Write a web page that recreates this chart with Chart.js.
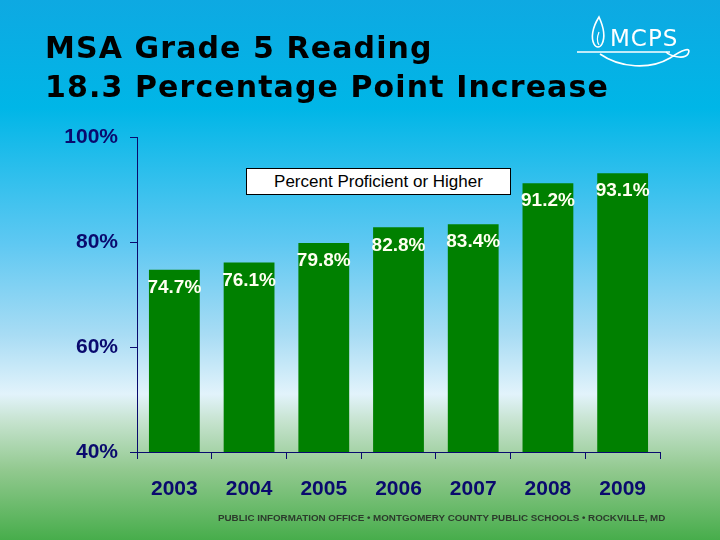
<!DOCTYPE html>
<html>
<head>
<meta charset="utf-8">
<script src="https://cdn.jsdelivr.net/npm/chart.js@4"></script>
<style>
  html, body { margin: 0; padding: 0; }
  body {
    width: 720px; height: 540px; position: relative; overflow: hidden;
    background: linear-gradient(to bottom, #0ea9e2 0%, #00b6e7 20%, #5ec8f2 45%, #a8dcf4 62%, #e2f3fb 73%, #c6e3cf 78%, #92c98f 87%, #47ad4b 100%);
  }
  #chart { position: absolute; left: 0; top: 0; }
  .title {
    position: absolute; left: 45px; top: 28px; margin: 0;
    font: bold 30px "DejaVu Sans", Verdana, sans-serif; line-height: 39px; color: #000;
    letter-spacing: 1.1px;
  }
  .legend-box {
    position: absolute; left: 246px; top: 168px; width: 263px; height: 25px;
    background: #fff; border: 1px solid #000;
    font: 17px "Liberation Sans", Arial, sans-serif; line-height: 25px; text-align: center; color: #000;
  }
  .footer {
    position: absolute; left: 218px; top: 512px;
    font: bold 9.8px "Liberation Sans", Arial, sans-serif; color: #2c3a2c; white-space: nowrap;
  }
  .logo { position: absolute; left: 570px; top: 12px; }
</style>
</head>
<body>
<canvas id="chart" width="720" height="540"></canvas>
<h1 class="title">MSA Grade 5 Reading<br>18.3 Percentage Point Increase</h1>
<div class="legend-box">Percent Proficient or Higher</div>
<div class="footer">PUBLIC INFORMATION OFFICE • MONTGOMERY COUNTY PUBLIC SCHOOLS • ROCKVILLE, MD</div>
<svg class="logo" width="140" height="70" viewBox="0 0 140 70">
  <path d="M29 5 C22 16 21 26 24 32 C26 36 30 36 32 32 C35 26 34 16 29 5 Z" fill="none" stroke="#fff" stroke-width="1.6"/>
  <path d="M29 20 C27 25 27 30 29 33" fill="none" stroke="#fff" stroke-width="1.2"/>
  <text x="40" y="34" fill="#fff" font-family="'DejaVu Sans', Verdana, sans-serif" font-size="23" letter-spacing="1">MCPS</text>
  <path d="M7 40 L100 40" stroke="#fff" stroke-width="1.6"/>
  <path d="M30 42 C50 56 80 58 100 46 C112 38 122 34 118 42 C114 48 100 44 96 40" fill="none" stroke="#fff" stroke-width="1.6"/>
</svg>
<script>
const YEARS = ['2003', '2004', '2005', '2006', '2007', '2008', '2009'];
const PROFICIENT = [74.7, 76.1, 79.8, 82.8, 83.4, 91.2, 93.1];
const Y_TICKS = [40, 60, 80, 100];
const SERIES_LABEL = 'Percent Proficient or Higher';

const NAVY = '#0a0a6e';
const BAR_GREEN = '#008000';

// etiquetas de valor dentro de la parte alta de cada barra
const valueLabels = {
  id: 'valueLabels',
  afterDatasetsDraw(chart) {
    const ctx = chart.ctx;
    const meta = chart.getDatasetMeta(0);
    ctx.save();
    ctx.font = 'bold 19px "Liberation Sans", Arial, sans-serif';
    ctx.fillStyle = '#fffff0';
    ctx.textAlign = 'center';
    ctx.textBaseline = 'middle';
    meta.data.forEach((bar, i) => {
      ctx.fillText(PROFICIENT[i].toFixed(1) + '%', bar.x, bar.y + 18);
    });
    ctx.restore();
  },
};

new Chart(document.getElementById('chart'), {
  type: 'bar',
  data: {
    labels: YEARS,
    datasets: [{
      label: SERIES_LABEL,
      data: PROFICIENT,
      backgroundColor: BAR_GREEN,
      categoryPercentage: 1,
      barPercentage: 0.68,
    }],
  },
  options: {
    responsive: false,
    animation: false,
    layout: { padding: { left: 0, top: 137, right: 60, bottom: 0 } },
    plugins: { legend: { display: false }, tooltip: { enabled: false } },
    scales: {
      x: {
        afterFit: (s) => { s.height = 88; },
        border: { color: NAVY, width: 1 },
        grid: { drawOnChartArea: false, color: NAVY, tickLength: 7, offset: true },
        ticks: { color: NAVY, padding: 18, font: { family: '"Liberation Sans", Arial, sans-serif', size: 21, weight: 'bold' } },
      },
      y: {
        min: 40,
        max: 100,
        afterFit: (s) => { s.width = 137; },
        afterBuildTicks: (s) => { s.ticks = Y_TICKS.map((v) => ({ value: v })); },
        border: { color: NAVY, width: 1 },
        grid: { drawOnChartArea: false, color: NAVY, tickLength: 7 },
        ticks: {
          color: NAVY, padding: 12,
          font: { family: '"Liberation Sans", Arial, sans-serif', size: 21, weight: 'bold' },
          callback: (v) => v + '%',
        },
      },
    },
  },
  plugins: [valueLabels],
});
</script>
</body>
</html>
